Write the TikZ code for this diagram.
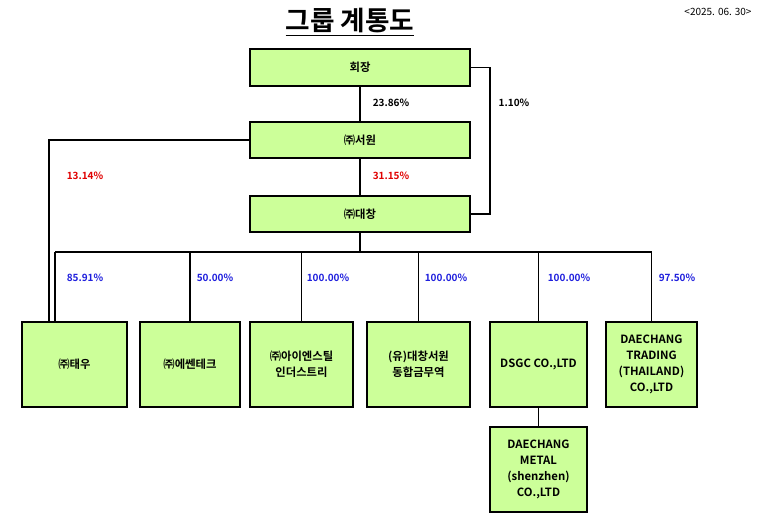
\documentclass[tikz,border=0pt]{standalone}
\usepackage{fontspec}
\setmainfont{Noto Sans CJK KR}[BoldFont={* Bold}]
\usetikzlibrary{positioning}
\definecolor{boxgreen}{HTML}{CCFF99}
\definecolor{pctblue}{HTML}{1F1FDD}
\definecolor{pctred}{HTML}{E00000}
\tikzset{
  corp/.style={draw, line width=1.3pt, fill=boxgreen, minimum width=#1*0.75pt,
    font=\fontsize{8.5}{12}\selectfont\bfseries, align=center, inner sep=1pt},
  corp/.default=100,
  link/.style={line width=1.3pt},
  pct/.style={font=\fontsize{7.5}{9}\selectfont\bfseries}
}
\begin{document}
\begin{tikzpicture}[x=0.75pt,y=-0.75pt]
        \useasboundingbox (0,0) rectangle (780,526);
        % title
        \node [font=\fontsize{20}{24}\selectfont\bfseries] (title) at (350,22) {\underline{그룹 계통도}};
        \node [font=\fontsize{7.5}{9}\selectfont] (date) at (718,12) {<2025. 06. 30>};
        % top boxes
        \node [corp=220, minimum height=37*0.75pt] (chair) at (360,67.5) {회장};
        \node [corp=220, minimum height=36*0.75pt] (seowon) at (360,140) {㈜서원};
        \node [corp=220, minimum height=36*0.75pt] (daechang) at (360,214) {㈜대창};
        % bottom row
        \node [corp=105, minimum height=85*0.75pt] (taewoo) at (74.5,364.5) {㈜태우};
        \node [corp=100, minimum height=85*0.75pt] (essen) at (190,364.5) {㈜에쎈테크};
        \node [corp=103, minimum height=85*0.75pt] (ainsteel) at (301.5,364.5) {㈜아이엔스틸\\인더스트리};
        \node [corp=103, minimum height=85*0.75pt] (dcseowon) at (418.5,364.5) {(유)대창서원\\동합금무역};
        \node [corp=97, minimum height=85*0.75pt] (dsgc) at (538.5,364.5) {DSGC CO.,LTD};
        \node [corp=91, minimum height=85*0.75pt] (trading) at (651.5,364.5) {DAECHANG\\TRADING\\(THAILAND)\\CO.,LTD};
        \node [corp=97, minimum height=85*0.75pt] (metal) at (538.5,469.5) {DAECHANG\\METAL\\(shenzhen)\\CO.,LTD};
        % connectors
        \draw [link] (chair) -- (seowon);
        \draw [link] (seowon) -- (daechang);
        \draw [link] (chair.east) -| (490,140) |- (daechang.east);
        \draw [link] (seowon.west) -| (taewoo.north -| 49,0);
        \coordinate (bus) at (360,252);
        \draw [link] (daechang.south) -- (bus);
        \draw [link] (55,252) -- (651.5,252);
        \draw [link] (55,252) -- (taewoo.north -| 55,0);
        \foreach \n in {essen,ainsteel,dcseowon,dsgc,trading}
          \draw [link] (\n.north |- bus) -- (\n.north);
        \draw [link] (dsgc) -- (metal);
        % percentages
        \node [pct] (p1) at (391,103) {23.86\%};
        \node [pct] (p2) at (514,103) {1.10\%};
        \node [pct, pctred] (p3) at (85,176) {13.14\%};
        \node [pct, pctred] (p4) at (391,176) {31.15\%};
        \node [pct, pctblue] (p5) at (85,278) {85.91\%};
        \node [pct, pctblue] (p6) at (215,278) {50.00\%};
        \node [pct, pctblue] (p7) at (328,278) {100.00\%};
        \node [pct, pctblue] (p8) at (446,278) {100.00\%};
        \node [pct, pctblue] (p9) at (569,278) {100.00\%};
        \node [pct, pctblue] (p10) at (677,278) {97.50\%};
\end{tikzpicture}
\end{document}
